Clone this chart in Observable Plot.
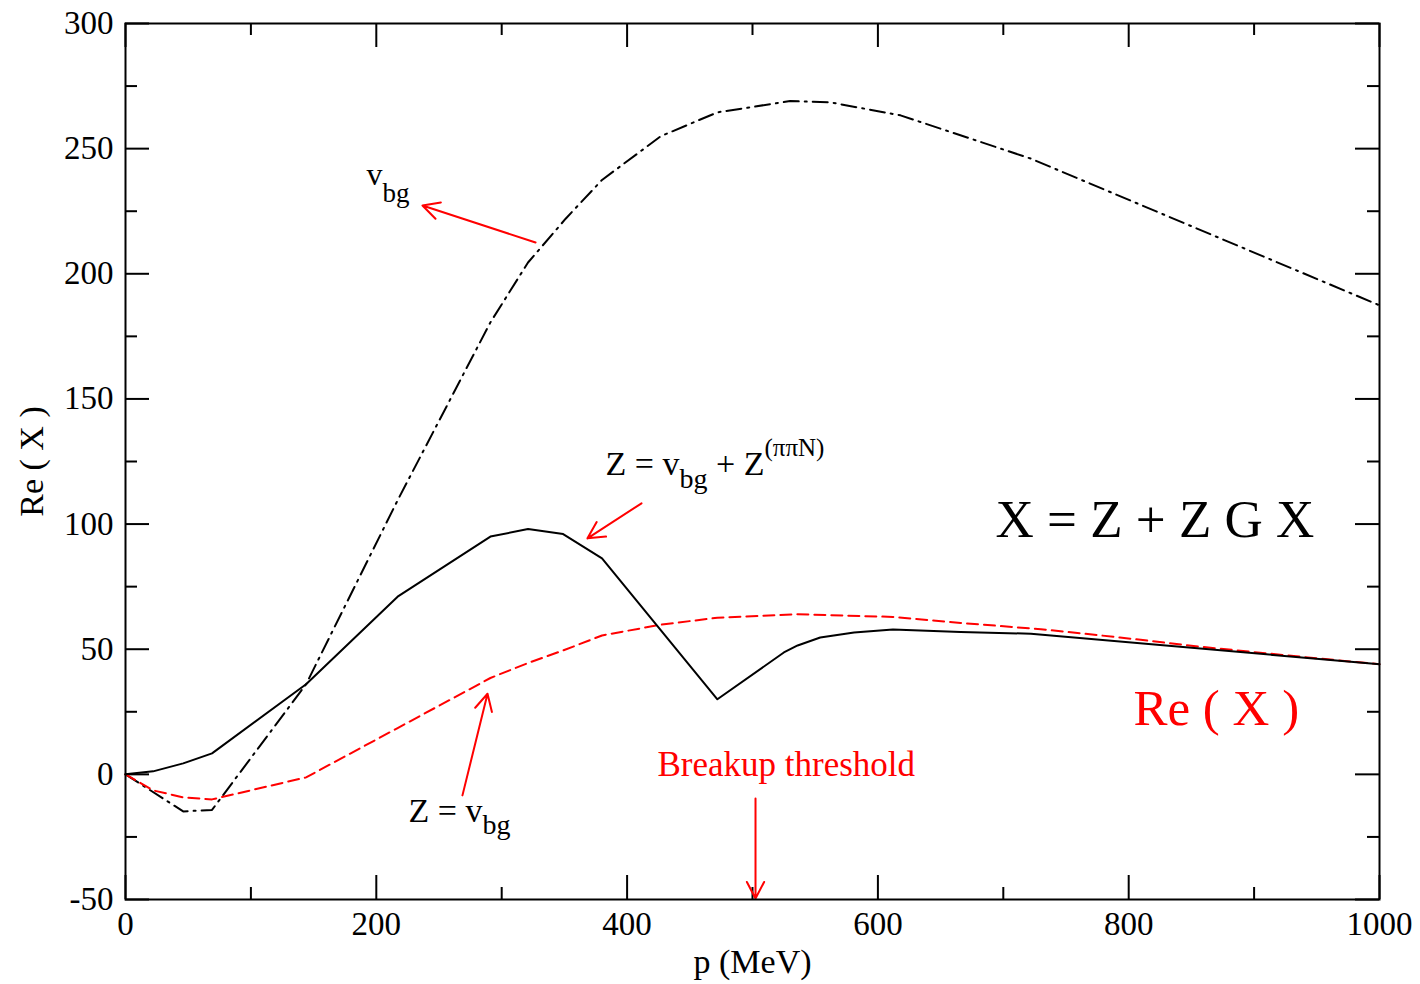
<!DOCTYPE html>
<html>
<head>
<meta charset="utf-8">
<script src="https://cdn.jsdelivr.net/npm/d3@7"></script>
<script src="https://cdn.jsdelivr.net/npm/@observablehq/plot@0.6"></script>
<style>
  html, body { margin: 0; padding: 0; background: white; }
</style>
</head>
<body>
<div id="chart"></div>
<script>
// ---- data ----
const xMajor = [0, 200, 400, 600, 800, 1000];
const xMinor = [100, 300, 500, 700, 900];
const yMajor = [-50, 0, 50, 100, 150, 200, 250, 300];
const yMinor = [-25, 25, 75, 125, 175, 225, 275];

// v_bg (dash-dot)
const vbgP  = [0, 46, 69, 144, 217, 291, 321, 351, 380, 427, 472, 530, 562, 618, 722, 1000];
const vbgRe = [0, -14.8, -14.2, 36, 109.5, 180.6, 204.5, 222, 237.5, 255, 264.5, 269, 268.5, 263.3, 246, 187.4];

// Re(X) with Z = v_bg + Z^(ππN)  (solid black)
const fullP  = [0, 22, 46, 69, 144, 217, 291, 321, 349, 380, 472, 525, 536, 554, 581, 612, 666, 722, 1000];
const fullRe = [0, 1.2, 4.4, 8.4, 36, 71, 95, 98, 96, 86.3, 30, 48.7, 51.5, 54.7, 56.7, 57.9, 56.9, 56.2, 44];

// Re(X) with Z = v_bg  (red dashed)
const bgP  = [0, 22, 46, 69, 144, 217, 291, 321, 349, 380, 427, 472, 536, 612, 666, 730, 793, 857, 937, 1000];
const bgRe = [0, -6.4, -9.2, -10, -1.2, 18.5, 38.5, 44.5, 49.5, 55.5, 59.8, 62.6, 64, 62.9, 60.5, 58, 54.7, 51, 47, 44];

const toRows = (P, V) => P.map((p, i) => ({p, v: V[i]}));
const vbgRows = toRows(vbgP, vbgRe);
const fullRows = toRows(fullP, fullRe);
const bgRows = toRows(bgP, bgRe);

// annotation arrows (data coordinates)
const arrows = [
  {x1: 327, y1: 212.5, x2: 236.8, y2: 227.3},
  {x1: 411.5, y1: 108.3, x2: 368.4, y2: 94.3},
  {x1: 268.7, y1: -8.4, x2: 288.7, y2: 32.2},
  {x1: 502.4, y1: -9.6, x2: 502.4, y2: -49.6}
];

// rich labels: parts = [text, baseline shift px (+down), font size px]
const blackLabels = [
  {x: 192.2, y: 235.3, parts: [["v", 0, 32], ["bg", 17, 27]]},
  {x: 382.8, y: 119.5, parts: [["Z = v", 0, 34], ["bg", 13, 28], [" + Z", 0, 34], ["(ππN)", -19, 25]]},
  {x: 225.7, y: -19.2, parts: [["Z = v", 0, 34], ["bg", 12, 28]]},
  {x: 693.8, y: 94.7, parts: [["X = Z + Z G X", 0, 53]]}
];
const redLabels = [
  {x: 803.8, y: 19.6, parts: [["Re ( X )", 0, 51]]},
  {x: 424.2, y: -0.8, parts: [["Breakup threshold", 0, 35]]}
];

const W = 1420, H = 984;
const mL = 125, mR = 41, mT = 23, mB = 85;
const iH = H - mT - mB, iW = W - mL - mR;
const MAJ = 24, MIN = 12;

const plainText = d => d.parts.map(p => p[0]).join("");

const chart = Plot.plot({
  width: W, height: H,
  marginLeft: mL, marginRight: mR, marginTop: mT, marginBottom: mB,
  style: {fontFamily: "'Liberation Serif', 'Times New Roman', serif", background: "white", color: "black"},
  x: {domain: [0, 1000]},
  y: {domain: [-50, 300]},
  marks: [
    // axes labels
    Plot.axisX({ticks: xMajor, tickSize: 0, tickPadding: 12, fontSize: 33, tickFormat: d => String(d), label: null}),
    Plot.axisY({ticks: yMajor, tickSize: 0, tickPadding: 12, fontSize: 33, tickFormat: d => String(d), label: null}),
    Plot.text(["p (MeV)"], {frameAnchor: "bottom", lineAnchor: "middle", dy: 63, fontSize: 34, fill: "black"}),
    Plot.text(["Re ( X )"], {frameAnchor: "left", textAnchor: "middle", lineAnchor: "middle", dx: -93, rotate: -90, fontSize: 34, fill: "black"}),
    // inward ticks on four sides
    Plot.ruleX(xMajor, {x: d => d, insetTop: iH - MAJ, stroke: "black", strokeWidth: 2}),
    Plot.ruleX(xMinor, {x: d => d, insetTop: iH - MIN, stroke: "black", strokeWidth: 2}),
    Plot.ruleX(xMajor, {x: d => d, insetBottom: iH - MAJ, stroke: "black", strokeWidth: 2}),
    Plot.ruleX(xMinor, {x: d => d, insetBottom: iH - MIN, stroke: "black", strokeWidth: 2}),
    Plot.ruleY(yMajor, {y: d => d, insetRight: iW - MAJ, stroke: "black", strokeWidth: 2}),
    Plot.ruleY(yMinor, {y: d => d, insetRight: iW - MIN, stroke: "black", strokeWidth: 2}),
    Plot.ruleY(yMajor, {y: d => d, insetLeft: iW - MAJ, stroke: "black", strokeWidth: 2}),
    Plot.ruleY(yMinor, {y: d => d, insetLeft: iW - MIN, stroke: "black", strokeWidth: 2}),
    // curves
    Plot.line(vbgRows, {x: "p", y: "v", stroke: "black", strokeWidth: 2, strokeDasharray: "15,6,2,6"}),
    Plot.line(bgRows, {x: "p", y: "v", stroke: "red", strokeWidth: 2, strokeDasharray: "11,6"}),
    Plot.line(fullRows, {x: "p", y: "v", stroke: "black", strokeWidth: 2}),
    // arrows
    Plot.arrow(arrows, {x1: "x1", y1: "y1", x2: "x2", y2: "y2", stroke: "red", strokeWidth: 2, headLength: 14, headAngle: 55}),
    // labels
    Plot.text(blackLabels, {x: "x", y: "y", text: plainText, textAnchor: "start", lineAnchor: "bottom", fill: "black", fontSize: 32, className: "richblack"}),
    Plot.text(redLabels, {x: "x", y: "y", text: plainText, textAnchor: "start", lineAnchor: "bottom", fill: "red", fontSize: 32, className: "richred"}),
    Plot.frame({stroke: "black", strokeWidth: 2})
  ]
});

function enrich(cls, labels) {
  d3.select(chart).selectAll(`g.${cls} text`).each(function (_, i) {
    const lab = labels[i];
    if (!lab) return;
    const t = d3.select(this);
    t.text(null);
    let cur = 0;
    for (const [str, shift, size] of lab.parts) {
      t.append("tspan")
        .attr("dy", (shift - cur) + "px")
        .attr("font-size", size + "px")
        .text(str);
      cur = shift;
    }
  });
}
enrich("richblack", blackLabels);
enrich("richred", redLabels);

document.getElementById("chart").appendChild(chart);
</script>
</body>
</html>
